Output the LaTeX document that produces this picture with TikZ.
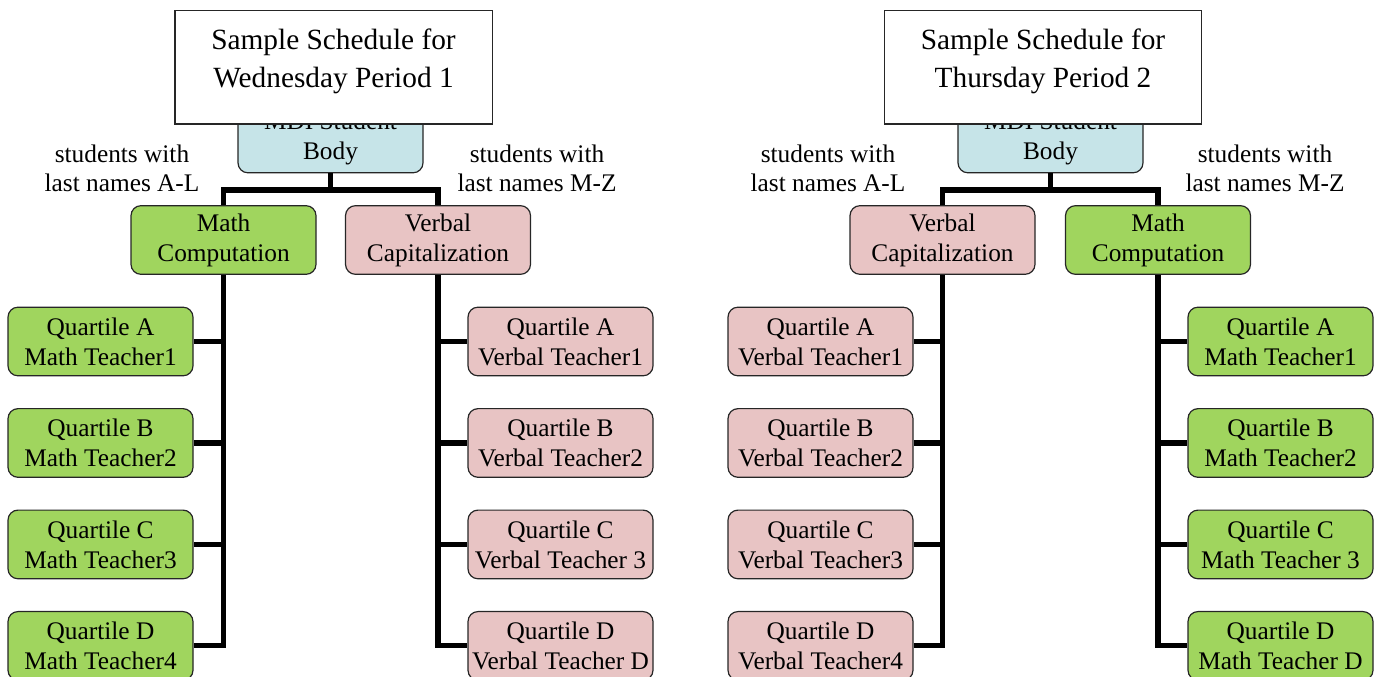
\documentclass[tikz,border=0pt]{standalone}
\usepackage{fontspec}
\setmainfont{Liberation Serif}
\usepackage{tikz}
\usetikzlibrary{positioning}
\definecolor{mathgreen}{HTML}{A0D55E}
\definecolor{verbalpink}{HTML}{E8C4C4}
\definecolor{bodyblue}{HTML}{C6E4E8}
\tikzstyle{box} = [draw=black!85, line width=0.9pt, rounded corners=7.5pt, minimum width=138.75pt, minimum height=51.5pt, inner sep=0pt, align=center, font=\fontsize{19}{22.5}\selectfont]
\tikzstyle{mathbox} = [box, fill=mathgreen]
\tikzstyle{verbalbox} = [box, fill=verbalpink]
\tikzstyle{bodybox} = [box, fill=bodyblue]
\tikzstyle{titlebox} = [draw=black!85, line width=1pt, fill=white, minimum width=238pt, minimum height=85pt, inner sep=0pt]
\tikzstyle{titletext} = [align=center, font=\fontsize{22}{28.5}\selectfont]
\tikzstyle{note} = [align=center, font=\fontsize{19}{21.75}\selectfont]
\tikzset{
  link/.style ={draw, line width=3.8pt, line join=miter}
}

\begin{document}
\begin{tikzpicture}[x=0.75pt,y=-0.75pt,node distance=76.1pt]
  \useasboundingbox (0,0) rectangle (1380,677);

  % Wednesday
  \node[bodybox] (bodyW) at (330.5,138.5) {MDI Student\\Body};
  \node[titlebox] (titleW) at (333.5,67.5) {};
  \node[titletext] (titleWtext) at (333.5,61) {Sample Schedule for\\Wednesday Period 1};
  \node[note] (alW) at (122,168.5) {students with\\last names A-L};
  \node[note] (mzW) at (537,168.5) {students with\\last names M-Z};
  \node[mathbox] (compW) at (223.5,240) {Math\\Computation};
  \node[verbalbox] (capW) at (438,240) {Verbal\\Capitalization};
  \coordinate (forkW) at (330.5,190);

  \node[mathbox] (mathAW) at (100.5,341.5) {Quartile A\\Math Teacher1};
  \node[mathbox,below of=mathAW] (mathBW) {Quartile B\\Math Teacher2};
  \node[mathbox,below of=mathBW] (mathCW) {Quartile C\\Math Teacher3};
  \node[mathbox,below of=mathCW] (mathDW) {Quartile D\\Math Teacher4};

  \node[verbalbox] (verbAW) at (560.5,341.5) {Quartile A\\Verbal Teacher1};
  \node[verbalbox,below of=verbAW] (verbBW) {Quartile B\\Verbal Teacher2};
  \node[verbalbox,below of=verbBW] (verbCW) {Quartile C\\Verbal Teacher 3};
  \node[verbalbox,below of=verbCW] (verbDW) {Quartile D\\Verbal Teacher D};

  % Thursday
  \node[bodybox] (bodyT) at (1050.5,138.5) {MDI Student\\Body};
  \node[titlebox] (titleT) at (1043,67.5) {};
  \node[titletext] (titleTtext) at (1043,61) {Sample Schedule for\\Thursday Period 2};
  \node[note] (alT) at (828,168.5) {students with\\last names A-L};
  \node[note] (mzT) at (1265,168.5) {students with\\last names M-Z};
  \node[verbalbox] (capT) at (942.5,240) {Verbal\\Capitalization};
  \node[mathbox] (compT) at (1158,240) {Math\\Computation};
  \coordinate (forkT) at (1050.5,190);

  \node[verbalbox] (verbAT) at (820.5,341.5) {Quartile A\\Verbal Teacher1};
  \node[verbalbox,below of=verbAT] (verbBT) {Quartile B\\Verbal Teacher2};
  \node[verbalbox,below of=verbBT] (verbCT) {Quartile C\\Verbal Teacher3};
  \node[verbalbox,below of=verbCT] (verbDT) {Quartile D\\Verbal Teacher4};

  \node[mathbox] (mathAT) at (1280.5,341.5) {Quartile A\\Math Teacher1};
  \node[mathbox,below of=mathAT] (mathBT) {Quartile B\\Math Teacher2};
  \node[mathbox,below of=mathBT] (mathCT) {Quartile C\\Math Teacher 3};
  \node[mathbox,below of=mathCT] (mathDT) {Quartile D\\Math Teacher D};

  \begin{scope}[every path/.style=link]
    \path (bodyW) -- (forkW);
    \path (compW.north) |- (forkW) -| (capW.north);
    \path (compW.south) |- (mathDW.east);
    \path (compW.south |- mathAW.east) -- (mathAW.east);
    \path (compW.south |- mathBW.east) -- (mathBW.east);
    \path (compW.south |- mathCW.east) -- (mathCW.east);
    \path (capW.south) |- (verbDW.west);
    \path (capW.south |- verbAW.west) -- (verbAW.west);
    \path (capW.south |- verbBW.west) -- (verbBW.west);
    \path (capW.south |- verbCW.west) -- (verbCW.west);

    \path (bodyT) -- (forkT);
    \path (capT.north) |- (forkT) -| (compT.north);
    \path (capT.south) |- (verbDT.east);
    \path (capT.south |- verbAT.east) -- (verbAT.east);
    \path (capT.south |- verbBT.east) -- (verbBT.east);
    \path (capT.south |- verbCT.east) -- (verbCT.east);
    \path (compT.south) |- (mathDT.west);
    \path (compT.south |- mathAT.west) -- (mathAT.west);
    \path (compT.south |- mathBT.west) -- (mathBT.west);
    \path (compT.south |- mathCT.west) -- (mathCT.west);
  \end{scope}

\end{tikzpicture}
\end{document}
